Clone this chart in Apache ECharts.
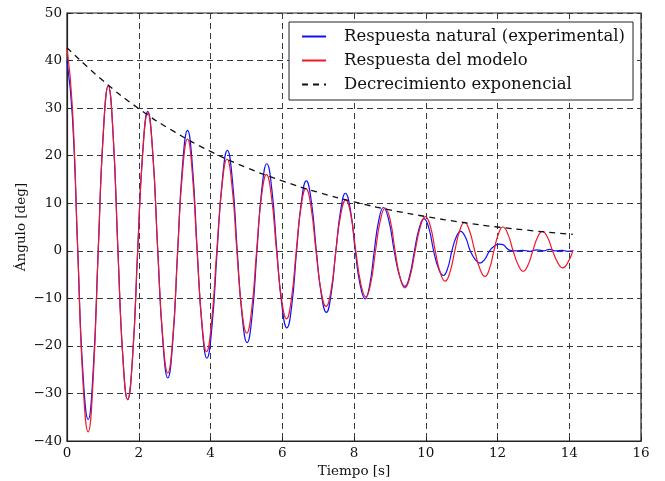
<!DOCTYPE html>
<html>
<head>
<meta charset="utf-8">
<script src="https://cdn.jsdelivr.net/npm/echarts@6/dist/echarts.min.js"></script>
<style>html,body{margin:0;padding:0;background:#fff}#c{width:665px;height:481px}</style>
</head>
<body>
<div id="c"></div>
<script>
const seriesNames = ["Respuesta natural (experimental)", "Respuesta del modelo", "Decrecimiento exponencial"];
const xTicks = [0, 2, 4, 6, 8, 10, 12, 14, 16];
const yTicks = [-40, -30, -20, -10, 0, 10, 20, 30, 40, 50];

// Blue: experimental response [t, angle]
const experimental = [
  [0.00,40.0],[0.15,28.3],[0.30,0],[0.44,-25.1],[0.59,-35.5],
  [0.73,-25.1],[0.87,0],[1.01,24.5],[1.15,34.7],
  [1.285,24.5],[1.42,0],[1.555,-22.1],[1.69,-31.3],
  [1.83,-22.1],[1.97,0],[2.11,20.7],[2.25,29.3],
  [2.39,20.7],[2.53,0],[2.67,-18.9],[2.81,-26.75],
  [2.95,-18.9],[3.085,0],[3.22,17.9],[3.36,25.3],
  [3.495,17.9],[3.63,0],[3.765,-16.0],[3.90,-22.6],
  [4.04,-16.0],[4.185,0],[4.33,14.9],[4.47,21.1],
  [4.61,14.9],[4.745,0],[4.88,-13.6],[5.02,-19.3],
  [5.16,-13.6],[5.295,0],[5.43,12.9],[5.57,18.3],
  [5.71,12.9],[5.85,0],[5.99,-11.5],[6.13,-16.2],
  [6.265,-11.5],[6.40,0],[6.535,10.4],[6.67,14.7],
  [6.81,10.4],[6.95,0],[7.09,-9.2],[7.23,-12.95],
  [7.36,-9.2],[7.495,0],[7.63,8.6],[7.76,12.1],
  [7.90,8.6],[8.035,0],[8.17,-7.1],[8.31,-10.1],
  [8.44,-7.1],[8.565,0],[8.69,6.4],[8.82,9.1],
  [8.97,6.4],[9.12,0],[9.27,-5.3],[9.42,-7.5],
  [9.55,-5.3],[9.685,0],[9.82,4.8],[9.95,6.75],
  [10.085,4.8],[10.22,0],[10.355,-3.7],[10.49,-5.2],
  [10.61,-3.7],[10.73,0],[10.85,2.9],[10.97,4.1],
  [11.105,2.9],[11.24,0],[11.375,-1.8],[11.51,-2.6],
  [11.645,-1.8],[11.78,0],[11.915,1.0],[12.05,1.4],
  [12.15,1.3],[12.25,0.6],[12.35,0.1],[12.5,0.0],[12.7,0.1],[12.9,-0.1],
  [13.1,0.2],[13.3,0.0],[13.45,0.3],[13.6,0.0],[13.8,0.1],[13.95,-0.1],[14.1,0.0]
];

// Red: model response [t, angle]
const model = [
  [0.00,42.7],[0.15,30.2],[0.30,0],[0.44,-26.9],[0.59,-38.1],
  [0.73,-26.9],[0.87,0],[1.01,24.5],[1.15,34.7],
  [1.285,24.5],[1.42,0],[1.555,-22.1],[1.69,-31.3],
  [1.83,-22.1],[1.97,0],[2.11,20.5],[2.25,29.0],
  [2.39,20.5],[2.53,0],[2.67,-18.2],[2.81,-25.7],
  [2.95,-18.2],[3.085,0],[3.22,16.6],[3.36,23.5],
  [3.49,16.6],[3.625,0],[3.76,-15.0],[3.89,-21.2],
  [4.03,-15.0],[4.175,0],[4.32,13.6],[4.46,19.3],
  [4.60,13.6],[4.735,0],[4.87,-12.2],[5.01,-17.3],
  [5.15,-12.2],[5.285,0],[5.42,11.3],[5.56,16.0],
  [5.70,11.3],[5.84,0],[5.98,-10.1],[6.12,-14.3],
  [6.255,-10.1],[6.39,0],[6.525,9.3],[6.66,13.1],
  [6.80,9.3],[6.94,0],[7.08,-8.3],[7.22,-11.7],
  [7.36,-8.3],[7.495,0],[7.63,7.6],[7.77,10.7],
  [7.91,7.6],[8.05,0],[8.19,-6.9],[8.33,-9.7],
  [8.465,-6.9],[8.60,0],[8.735,6.4],[8.87,9.0],
  [9.01,6.4],[9.145,0],[9.28,-5.5],[9.42,-7.8],
  [9.56,-5.5],[9.705,0],[9.85,5.1],[9.99,7.2],
  [10.13,5.1],[10.265,0],[10.40,-4.5],[10.54,-6.4],
  [10.675,-4.5],[10.81,0],[10.945,4.2],[11.08,6.0],
  [11.22,4.2],[11.365,0],[11.51,-3.8],[11.65,-5.4],
  [11.775,-3.8],[11.90,0],[12.025,3.5],[12.15,5.0],
  [12.29,3.5],[12.435,0],[12.58,-3.0],[12.72,-4.3],
  [12.85,-3.0],[12.985,0],[13.12,2.9],[13.25,4.1],
  [13.39,2.9],[13.535,0],[13.68,-2.5],[13.82,-3.6],
  [13.96,-2.5],[14.11,0.2]
];

// Black dashed: exponential envelope [t, angle]
const envelope = [
  [0,42.7],[1,35.8],[2,29.9],[3,25.0],[4,20.9],[5,17.5],[6,14.7],[7,12.3],
  [8,10.3],[9,8.6],[10,7.2],[11,6.0],[12,5.0],[13,4.2],[14.1,3.45]
];

const FONT = "'DejaVu Serif', serif";
const chart = echarts.init(document.getElementById('c'), null, {renderer: 'canvas'});
const minus = v => String(v).replace('-', '\u2212');
const gridDash = {show: true, lineStyle: {color: '#3a3a3a', width: 1, type: [6, 4]}};

chart.setOption({
  animation: false,
  backgroundColor: '#fff',
  grid: {left: 67, right: 24, top: 13, bottom: 40, containLabel: false, outerBoundsMode: 'none',
         show: true, borderColor: '#222', borderWidth: 1.2, backgroundColor: 'transparent'},
  legend: {
    show: true,
    top: 22, right: 32,
    orient: 'vertical',
    itemWidth: 24, itemHeight: 14, itemGap: 7,
    backgroundColor: '#fff', borderColor: '#222', borderWidth: 1,
    padding: [6, 8, 7, 12],
    itemStyle: {opacity: 0},
    textStyle: {fontFamily: FONT, fontSize: 16.5, color: '#111', lineHeight: 14, padding: [0, 0, 0, 13]},
    data: seriesNames
  },
  xAxis: {
    type: 'value', min: xTicks[0], max: xTicks[xTicks.length - 1], interval: 2,
    name: 'Tiempo [s]', nameLocation: 'middle', nameGap: 19,
    nameTextStyle: {fontFamily: FONT, fontSize: 13.5, color: '#111'},
    axisLine: {show: true, onZero: false, lineStyle: {color: '#222', width: 1.2}},
    axisTick: {show: true, inside: true, length: 4, lineStyle: {color: '#222'}},
    axisLabel: {fontFamily: FONT, fontSize: 13.5, color: '#111', margin: 5, formatter: minus},
    splitLine: gridDash
  },
  yAxis: {
    type: 'value', min: yTicks[0], max: yTicks[yTicks.length - 1], interval: 10,
    name: '\u00c1ngulo [deg]', nameLocation: 'middle', nameGap: 39, nameRotate: 90, nameMoveOverlap: false,
    nameTextStyle: {fontFamily: FONT, fontSize: 13.5, color: '#111'},
    axisLine: {show: true, onZero: false, lineStyle: {color: '#222', width: 1.2}},
    axisTick: {show: true, inside: true, length: 4, lineStyle: {color: '#222'}},
    axisLabel: {fontFamily: FONT, fontSize: 13.5, color: '#111', margin: 5, formatter: minus},
    splitLine: gridDash
  },
  series: [
    {name: seriesNames[0], type: 'line', data: experimental, smooth: 0.5, symbol: 'none',
     lineStyle: {color: '#1010ff', width: 1.2}, itemStyle: {color: '#1010ff'}, z: 3},
    {name: seriesNames[1], type: 'line', data: model, smooth: 0.5, symbol: 'none',
     lineStyle: {color: '#f01828', width: 1.2}, itemStyle: {color: '#f01828'}, z: 4},
    {name: seriesNames[2], type: 'line', data: envelope, smooth: 0.5, symbol: 'none',
     lineStyle: {color: '#111', width: 1.3, type: [6, 5]}, itemStyle: {color: '#111'}, z: 5}
  ]
});
</script>
</body>
</html>
